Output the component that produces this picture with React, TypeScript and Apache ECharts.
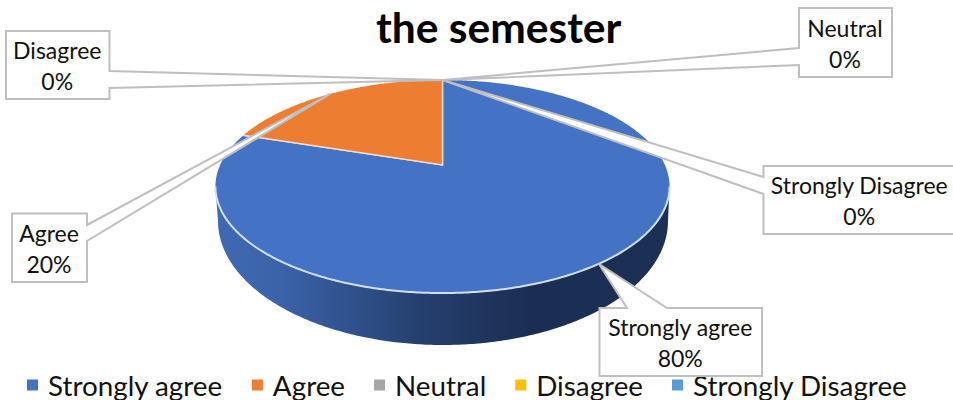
import React, { useEffect, useRef } from "react";
import * as echarts from "echarts";

const titleText = "the semester";
const categories = ["Strongly agree", "Agree", "Neutral", "Disagree", "Strongly Disagree"];
const values = [80, 20, 0, 0, 0];
const colors = ["#4472c4", "#ed7d31", "#a5a5a5", "#ffc000", "#5b9bd5"];

const FONT = "Lato";
const GREY = "#bfbfbf";

// Perspective view of the pie: apex, projection strengths, rim ellipse, base ellipse
const apex = { x: 442.5, y: 165 };
const view = { a: 222.4, b: 102.2, k: 0.202 };
const base = { cx: 443, cy: 221, rx: 225, ry: 124 };

const total = values.reduce((s, v) => s + v, 0);
const startOf = (i: number) => values.slice(0, i).reduce((s, v) => s + v, 0);
const toAngle = (v: number) => (v / total) * Math.PI * 2;

function project(theta: number): [number, number] {
  const s = Math.sin(theta);
  const c = Math.cos(theta);
  const w = 1 + view.k * c;
  return [apex.x + (view.a * s) / w, apex.y - (view.b * c) / w];
}

function arcPoints(from: number, to: number): [number, number][] {
  const n = Math.max(2, Math.ceil(Math.abs(to - from) / 0.01));
  const pts: [number, number][] = [];
  for (let i = 0; i <= n; i++) pts.push(project(from + ((to - from) * i) / n));
  return pts;
}

function sliceRender(index: number) {
  return () => {
    if (values[index] <= 0) return null;
    const a0 = toAngle(startOf(index));
    const a1 = toAngle(startOf(index) + values[index]);
    const arc = arcPoints(a0, a1);
    const children: any[] = [];

    // front wall: the part of the arc on the viewer's side of the extremes
    const frontAngle = Math.acos(-view.k);
    const f0 = Math.max(a0, frontAngle);
    const f1 = Math.min(a1, Math.PI * 2 - frontAngle);
    if (f1 > f0) {
      const front = arcPoints(f0, f1);
      const bottom = front
        .map(([x]) => {
          const d = Math.max(-1, Math.min(1, (x - base.cx) / base.rx));
          return [Math.max(base.cx - base.rx, Math.min(base.cx + base.rx, x)), base.cy + base.ry * Math.sqrt(1 - d * d)] as [number, number];
        })
        .reverse();
      children.push({
        type: "polygon",
        shape: { points: [...front, ...bottom] },
        style: {
          fill: new echarts.graphic.LinearGradient(1, 0, 0, 0, [
            { offset: 0, color: "#1c3055" },
            { offset: 0.3, color: "#1b2d52" },
            { offset: 0.55, color: "#25406f" },
            { offset: 0.85, color: "#3a62a8" },
            { offset: 1, color: "#3f6ab4" },
          ]),
        },
      });
      children.push({
        type: "polyline",
        z2: 5,
        shape: { points: front },
        style: { fill: "none", stroke: "#d3e0f4", lineWidth: 2 },
      });
    }

    children.splice(children.length - 1, 0, {
      type: "polygon",
      shape: { points: [[apex.x, apex.y], ...arc] },
      style: { fill: colors[index] },
    });
    children.push({
      type: "polyline",
      shape: { points: [project(a1), [apex.x, apex.y], project(a0)] },
      style: { fill: "none", stroke: "#f4dccb", lineWidth: 1.5 },
    });
    return { type: "group", children };
  };
}

// Callout boxes (x0, y0, x1, y1), the side the tail leaves from, tail offsets along that side
const callouts = [
  { cat: 3, box: [6, 31, 109.5, 99], side: "right", t: [71, 88] },
  { cat: 2, box: [799, 8, 892, 77], side: "left", t: [48, 65] },
  { cat: 4, box: [763.5, 166, 956, 234], side: "left", t: [177, 194] },
  { cat: 1, box: [12, 213.5, 87, 282], side: "right", t: [225, 241] },
  { cat: 0, box: [599.5, 308, 762, 376], side: "top", t: [627, 667] },
];

function calloutGraphics() {
  return callouts.map((c) => {
    const [x0, y0, x1, y1] = c.box;
    const mid = toAngle(startOf(c.cat) + values[c.cat] / 2);
    const tip = project(mid);
    let pts: [number, number][];
    if (c.side === "right") {
      pts = [[x0, y0], [x1, y0], [x1, c.t[0]], tip, [x1, c.t[1]], [x1, y1], [x0, y1]];
    } else if (c.side === "left") {
      pts = [[x0, y0], [x1, y0], [x1, y1], [x0, y1], [x0, c.t[1]], tip, [x0, c.t[0]]];
    } else {
      pts = [[x0, y0], [c.t[0], y0], tip, [c.t[1], y0], [x1, y0], [x1, y1], [x0, y1]];
    }
    const pct = Math.round((values[c.cat] / total) * 100);
    const textRight = c.cat === 4 ? 956 : x1;
    return {
      type: "group",
      z: 10,
      children: [
        {
          type: "polygon",
          z: 10,
          shape: { points: pts },
          style: { fill: "#ffffff", stroke: GREY, lineWidth: 2 },
        },
        {
          type: "text",
          z: 11,
          x: (x0 + textRight) / 2 - 0.5,
          y: (y0 + y1) / 2 + 0.5,
          style: {
            text: `${categories[c.cat]}\n${pct}%`,
            font: `23px ${FONT}`,
            fill: "#111111",
            align: "center",
            verticalAlign: "middle",
            lineHeight: 31,
          },
        },
      ],
    };
  });
}

export default function App() {
  const ref = useRef<HTMLDivElement>(null);
  useEffect(() => {
    const chart = echarts.init(ref.current!, undefined, { renderer: "svg" });
    chart.setOption({
      animation: false,
      backgroundColor: "#ffffff",
      title: {
        text: titleText,
        left: 376,
        top: 5,
        padding: 0,
        textStyle: { fontFamily: FONT, fontWeight: "bold", fontSize: 42.5, color: "#000000" },
      },
      legend: {
        left: 27,
        top: 371,
        padding: 0,
        itemWidth: 11,
        itemHeight: 11,
        itemGap: 29,
        icon: "rect",
        selectedMode: false,
        data: categories,
        textStyle: { fontFamily: FONT, fontSize: 27.8, color: "#111111", padding: [0, 0, 5, 5] },
      },
      graphic: calloutGraphics(),
      series: categories.map((name, i) => ({
        type: "custom",
        name,
        coordinateSystem: "none",
        silent: true,
        itemStyle: { color: colors[i] },
        data: [[values[i]]],
        renderItem: sliceRender(i),
      })),
    });
    return () => chart.dispose();
  }, []);
  return (
    <div
      ref={ref}
      style={{ position: "fixed", left: 0, top: 0, width: 953, height: 400, background: "#fff" }}
    />
  );
}
